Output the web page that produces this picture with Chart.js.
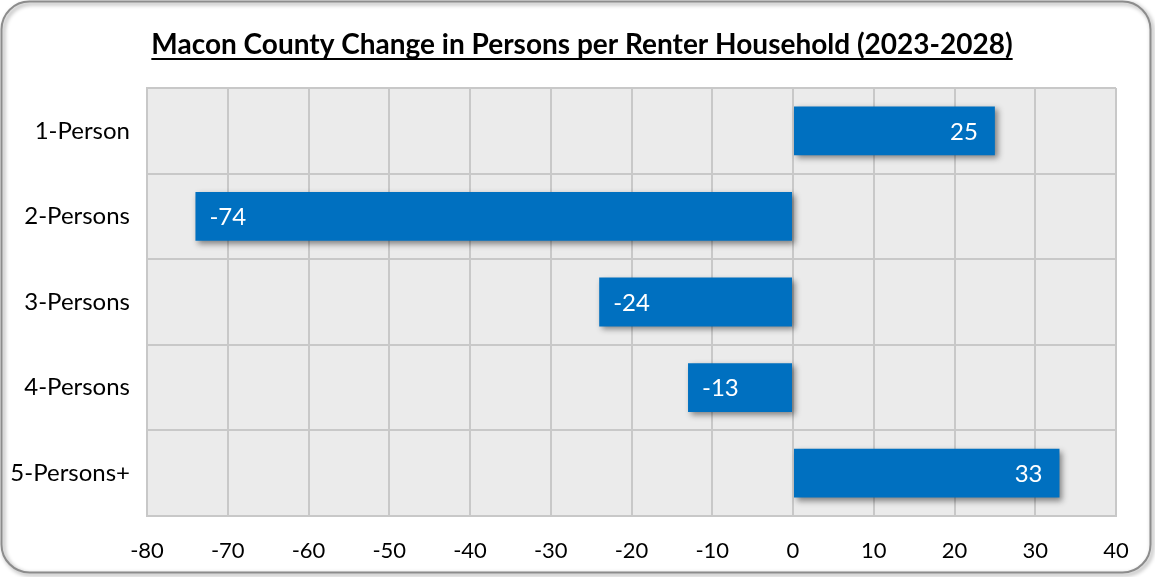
<!DOCTYPE html>
<html><head><meta charset="utf-8">
<script src="https://cdn.jsdelivr.net/npm/chart.js@4/dist/chart.umd.min.js"></script>
<style>html,body{margin:0;padding:0;background:#fff;}#wrap{width:1155px;height:577px;position:relative;}</style>
</head><body><div id="wrap"><canvas id="c" width="1155" height="577"></canvas></div>
<script>
const titleText = 'Macon County Change in Persons per Renter Household (2023-2028)';
const categories = ['1-Person', '2-Persons', '3-Persons', '4-Persons', '5-Persons+'];
const values = [25, -74, -24, -13, 33];
const xMin = -80, xMax = 40, xStep = 10;
const FONT = 'Lato, "Open Sans", sans-serif';

const framePlugin = {
  id: 'frame',
  beforeDraw(chart) {
    const ctx = chart.ctx;
    ctx.save();
    ctx.fillStyle = '#fff';
    ctx.fillRect(0, 0, chart.width, chart.height);
    ctx.shadowColor = 'rgba(0,0,0,0.45)';
    ctx.shadowBlur = 4; ctx.shadowOffsetX = 2; ctx.shadowOffsetY = 2;
    ctx.beginPath();
    ctx.roundRect(1.5, 1.5, chart.width - 6, chart.height - 6, 28);
    ctx.strokeStyle = '#8c8c8c'; ctx.lineWidth = 2;
    ctx.stroke();
    ctx.restore();
    const a = chart.chartArea;
    ctx.save();
    ctx.fillStyle = '#ebebeb';
    ctx.fillRect(a.left, a.top, a.right - a.left, a.bottom - a.top);
    ctx.restore();
    ctx.save();
    ctx.font = 'bold 28px ' + FONT;
    ctx.fillStyle = '#000';
    ctx.textAlign = 'center'; ctx.textBaseline = 'alphabetic';
    const cx = 582, by = 54;
    ctx.fillText(titleText, cx, by);
    const w = ctx.measureText(titleText).width;
    ctx.fillRect(cx - w / 2, by + 4, w, 2);
    ctx.restore();
  }
};

const shadowPlugin = {
  id: 'barShadow',
  beforeDatasetDraw(chart) {
    const ctx = chart.ctx;
    ctx.save();
    ctx.shadowColor = 'rgba(0,0,0,0.45)';
    ctx.shadowBlur = 6; ctx.shadowOffsetX = 3; ctx.shadowOffsetY = 3;
  },
  afterDatasetDraw(chart) {
    chart.ctx.restore();
    const ctx = chart.ctx;
    const meta = chart.getDatasetMeta(0);
    ctx.save();
    ctx.font = '24px ' + FONT;
    ctx.fillStyle = '#fff';
    ctx.textBaseline = 'middle';
    meta.data.forEach((bar, i) => {
      const v = values[i];
      if (v >= 0) { ctx.textAlign = 'right'; ctx.fillText(String(v), bar.x - 17, bar.y + 1); }
      else { ctx.textAlign = 'left'; ctx.fillText(String(v), bar.x + 14, bar.y + 1); }
    });
    ctx.restore();
  }
};

new Chart(document.getElementById('c'), {
  type: 'bar',
  data: { labels: categories, datasets: [{ data: values, backgroundColor: '#0070C0', borderWidth: 0, categoryPercentage: 1, barPercentage: 0.57 }] },
  options: {
    indexAxis: 'y', responsive: false, animation: false,
    layout: { padding: { top: 88, right: 39, left: 0, bottom: 0 } },
    plugins: { legend: { display: false }, tooltip: { enabled: false }, title: { display: false } },
    scales: {
      x: {
        min: xMin, max: xMax,
        ticks: { stepSize: xStep, color: '#000', font: { family: FONT, size: 22 }, padding: 22 },
        grid: { color: '#c8c8c8', lineWidth: 2, drawTicks: false },
        border: { color: '#c8c8c8', width: 2 },
        afterFit(s) { s.height = 61; }
      },
      y: {
        ticks: { color: '#000', font: { family: FONT, size: 24 }, padding: 17 },
        grid: { color: '#c8c8c8', lineWidth: 2, drawTicks: false, offset: true },
        border: { color: '#c8c8c8', width: 2 },
        afterFit(s) { s.width = 147; }
      }
    }
  },
  plugins: [framePlugin, shadowPlugin]
});
</script></body></html>
